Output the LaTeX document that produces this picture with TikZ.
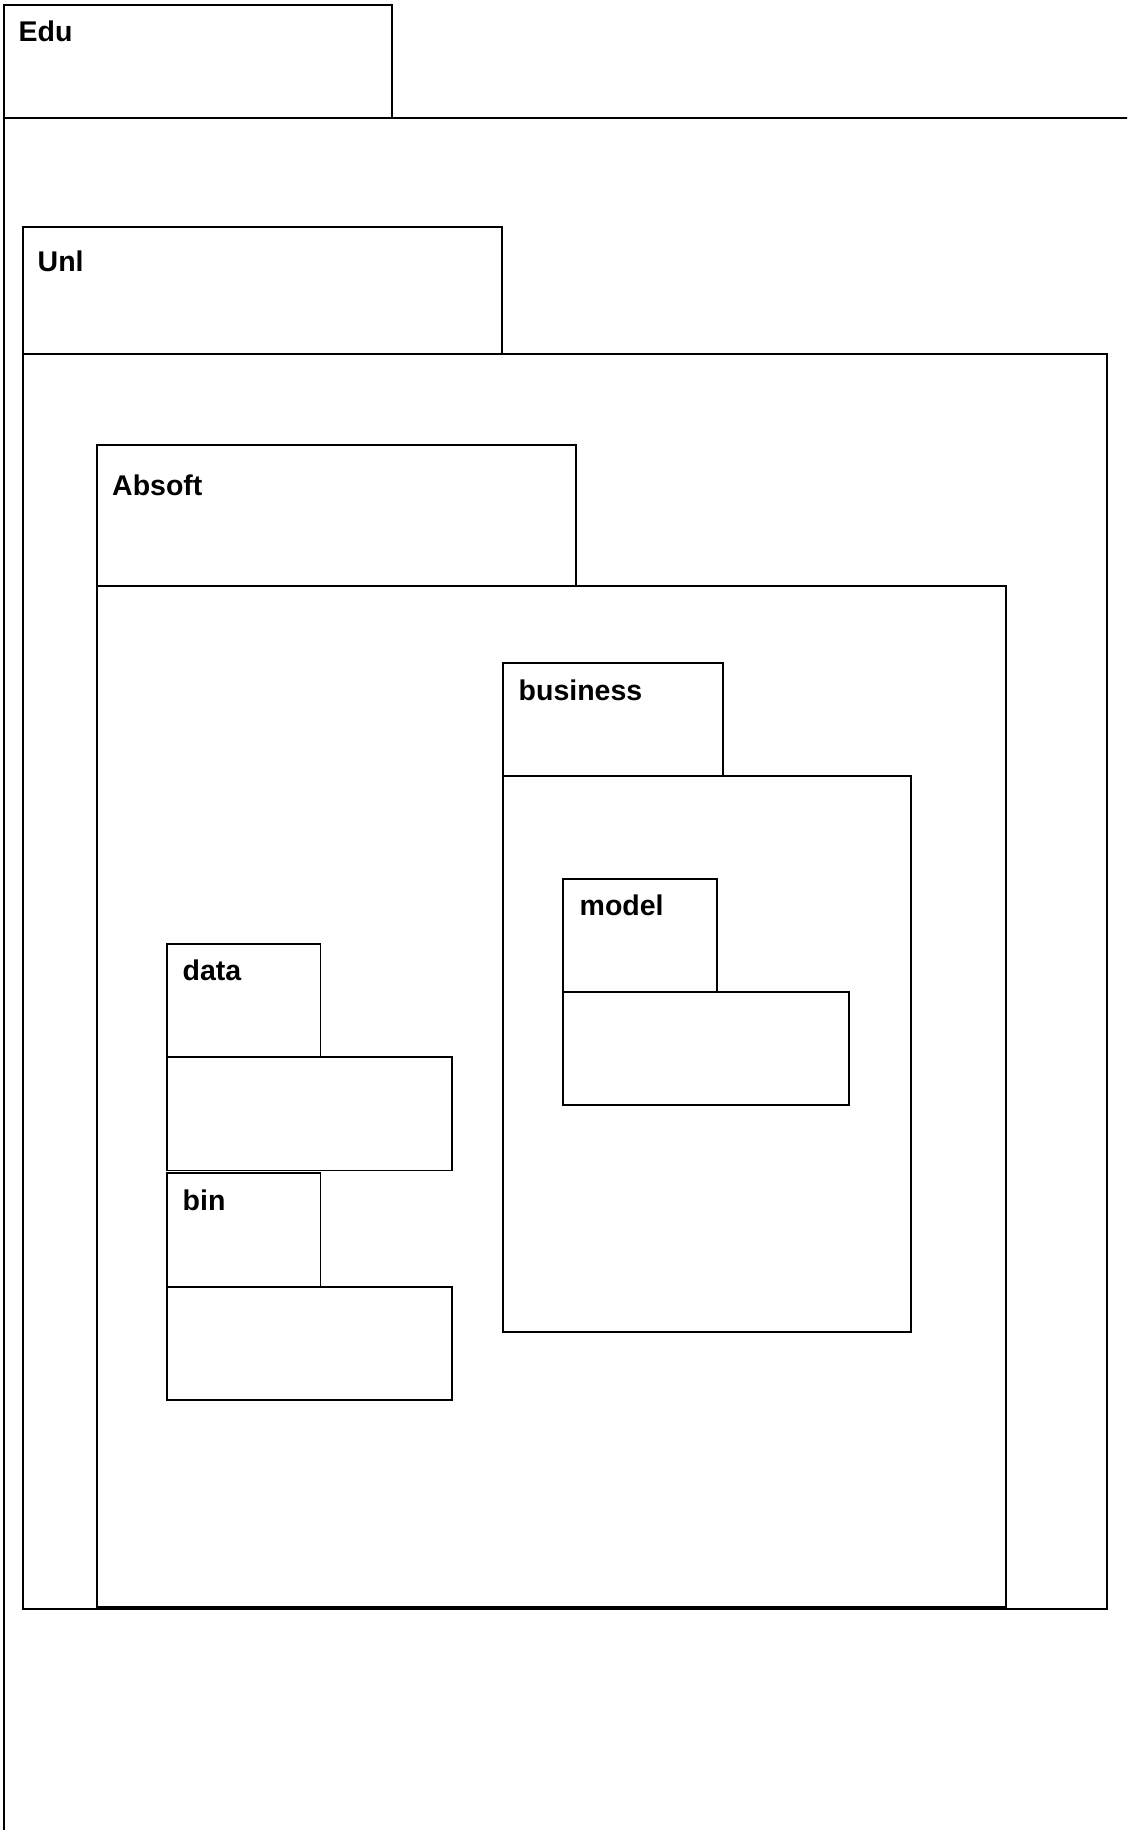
\documentclass[tikz,border=0pt]{standalone}
\usepackage{fontspec}
\setmainfont{Liberation Sans}
\begin{document}
\begin{tikzpicture}[x=1pt,y=-1pt,
  pkgline/.style={draw=black,line width=1.8pt},
  pkglabel/.style={anchor=base west,inner sep=0pt,font=\fontsize{28.5}{32}\selectfont\bfseries}]
\useasboundingbox (0,0) rectangle (1127,1830);
\begin{scope}
\clip (0,0) rectangle (1127,1830);
% Edu (body runs past the page edges)
\draw[pkgline] (3.8,4.7) rectangle (392,118);
\draw[pkgline] (1140,118) -- (3.8,118) -- (3.8,1845);
\node[pkglabel] (edu) at (18.5,42) {Edu};

% Unl
\draw[pkgline] (23.3,227) rectangle (501.7,353.7);
\draw[pkgline] (23.3,353.7) rectangle (1106.7,1608.8);
\node[pkglabel] (unl) at (37.5,271) {Unl};

% Absoft
\draw[pkgline] (96.7,445) rectangle (576.3,585.7);
\draw[pkgline] (96.7,585.7) rectangle (1005.7,1607.3);
\node[pkglabel] (absoft) at (112,495) {Absoft};

% business
\draw[pkgline] (502.7,662.7) rectangle (722.7,776);
\draw[pkgline] (502.7,776) rectangle (911.2,1332.3);
\node[pkglabel] (business) at (518.5,700) {business};

% model
\draw[pkgline] (563.3,879) rectangle (716.7,991.7);
\draw[pkgline] (563.3,991.7) rectangle (849.3,1104.8);
\node[pkglabel] (model) at (579.5,915) {model};

% data
\draw[pkgline] (166.7,944) rectangle (320.5,1057);
\draw[pkgline] (166.7,1057) rectangle (451.8,1170.5);
\node[pkglabel] (data) at (182.5,980) {data};

% bin
\draw[pkgline] (166.7,1172.7) rectangle (320.5,1286.7);
\draw[pkgline] (166.7,1286.7) rectangle (451.8,1400);
\node[pkglabel] (bin) at (182.5,1210) {bin};
\end{scope}
\end{tikzpicture}
\end{document}
